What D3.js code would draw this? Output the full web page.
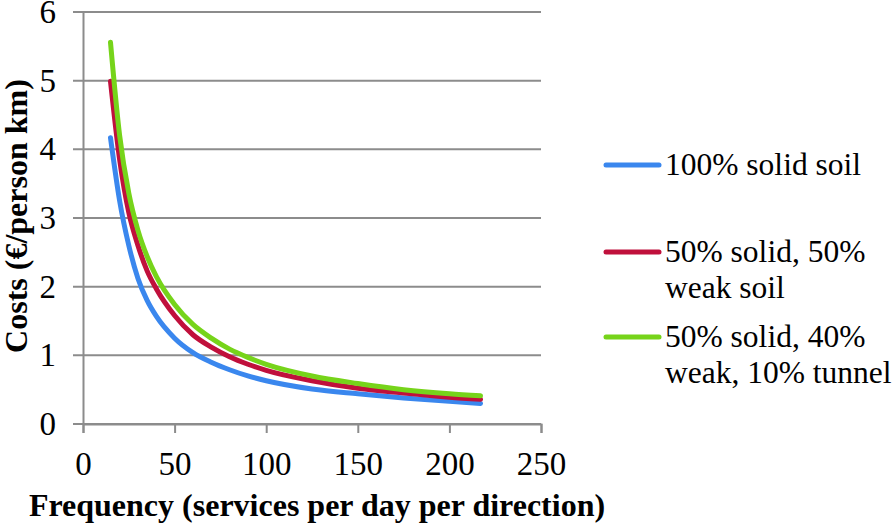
<!DOCTYPE html>
<html>
<head>
<meta charset="utf-8">
<script src="https://cdn.jsdelivr.net/npm/d3@7"></script>
<style>
  body { margin: 0; background: #fff; }
  svg text { fill: #000; }
</style>
</head>
<body>
<svg width="894" height="524"></svg>
<script>
// frequency (services per day per direction)
const frequency = [15, 20, 25, 30, 35, 40, 50, 60, 70, 80, 90, 100, 125, 150, 175, 200, 217];

// costs in euro per person km
const solidSoil = [4.17, 3.25, 2.6, 2.12, 1.8, 1.57, 1.25, 1.04, 0.9, 0.79, 0.7, 0.63, 0.51, 0.44, 0.38, 0.33, 0.30];
const solidWeak = [4.99, 3.85, 3.08, 2.6, 2.23, 1.97, 1.58, 1.3, 1.12, 0.98, 0.87, 0.78, 0.63, 0.52, 0.45, 0.39, 0.36];
const solidWeakTunnel = [5.56, 4.2, 3.36, 2.82, 2.44, 2.15, 1.74, 1.45, 1.25, 1.09, 0.97, 0.87, 0.7, 0.59, 0.5, 0.44, 0.41];

const seriesNames = [["100% solid soil"], ["50% solid, 50%", "weak soil"], ["50% solid, 40%", "weak, 10% tunnel"]];
const seriesColors = ["#3a87ee", "#c0103c", "#76d41a"];
const xTicks = [0, 50, 100, 150, 200, 250];
const yTicks = [0, 1, 2, 3, 4, 5, 6];

const serif = "'Liberation Serif'";

const margin = { top: 12, left: 83, right: 353, bottom: 100 };
const width = 894 - margin.left - margin.right;
const height = 524 - margin.top - margin.bottom;

const svg = d3.select("svg");
const g = svg.append("g").attr("transform", `translate(${margin.left},${margin.top})`);

const x = d3.scaleLinear().domain([0, 250]).range([0, width]);
const y = d3.scaleLinear().domain([0, 6]).range([height, 0]);

// horizontal gridlines (they run into the tick marks on the left)
g.selectAll(".grid")
    .data(yTicks)
    .enter().append("line")
    .attr("x1", -10)
    .attr("x2", width)
    .attr("y1", d => y(d))
    .attr("y2", d => y(d))
    .attr("stroke", "#8c8c8c")
    .attr("stroke-width", 2);

// y axis
const yAxis = d3.axisLeft(y).tickValues(yTicks).tickFormat(d3.format("d")).tickSize(0).tickPadding(27);
const ya = g.append("g").call(yAxis).attr("font-family", serif);
ya.select(".domain").attr("stroke", "#8c8c8c").attr("stroke-width", 2);
ya.selectAll("text").style("font-family", serif).style("font-size", "33px").attr("dy", "0.32em");

// x axis
const xAxis = d3.axisBottom(x).tickValues(xTicks).tickFormat(d3.format("d")).tickSize(9).tickPadding(19);
const xa = g.append("g").attr("transform", `translate(0,${height})`).call(xAxis).attr("font-family", serif);
xa.select(".domain").attr("stroke", "#8c8c8c").attr("stroke-width", 2);
xa.selectAll(".tick line").attr("stroke", "#8c8c8c").attr("stroke-width", 2);
xa.selectAll("text").style("font-family", serif).style("font-size", "33px");

// lines
const series = [solidSoil, solidWeak, solidWeakTunnel];
const line = d3.line()
    .x((d, i) => x(frequency[i]))
    .y(d => y(d))
    .curve(d3.curveMonotoneX);

series.forEach((s, i) => {
    g.append("path")
        .datum(s)
        .attr("d", line)
        .attr("fill", "none")
        .attr("stroke", seriesColors[i])
        .attr("stroke-width", 5)
        .attr("stroke-linecap", "round")
        .attr("stroke-linejoin", "round");
});

// axis titles
svg.append("text")
    .attr("x", 317)
    .attr("y", 516)
    .attr("text-anchor", "middle")
    .style("font-family", serif)
    .style("font-size", "32px")
    .style("font-weight", "bold")
    .text("Frequency (services per day per direction)");

svg.append("text")
    .attr("transform", "translate(27,216) rotate(-90)")
    .attr("text-anchor", "middle")
    .style("font-family", serif)
    .style("font-size", "32px")
    .style("font-weight", "bold")
    .text("Costs (€/person km)");

// legend
const legendY = [165, 252, 337];
const legend = svg.append("g");
seriesNames.forEach((lines, i) => {
    legend.append("line")
        .attr("x1", 606)
        .attr("x2", 659)
        .attr("y1", legendY[i])
        .attr("y2", legendY[i])
        .attr("stroke", seriesColors[i])
        .attr("stroke-width", 5)
        .attr("stroke-linecap", "round");
    lines.forEach((t, j) => {
        legend.append("text")
            .attr("x", 665)
            .attr("y", legendY[i] + 10 + j * 36)
            .style("font-family", serif)
            .style("font-size", "31.5px")
            .text(t);
    });
});
</script>
</body>
</html>
